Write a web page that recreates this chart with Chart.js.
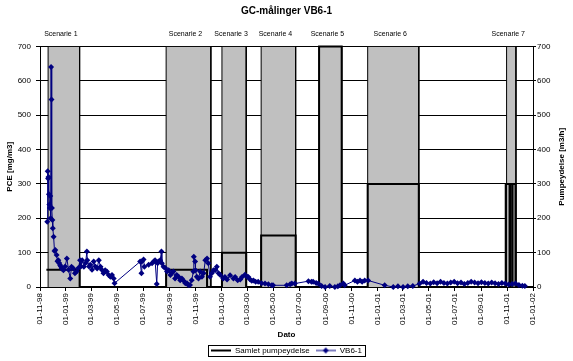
<!DOCTYPE html>
<html>
<head>
<meta charset="utf-8">
<script src="https://cdn.jsdelivr.net/npm/chart.js@4.4.0/dist/chart.umd.min.js"></script>
<style>
  html, body { margin: 0; padding: 0; background: #fff; }
</style>
</head>
<body>
<canvas id="myChart" width="573" height="361"></canvas>
<script>
// VB6-1 målinger (dato, PCE mg/m3)
var vbDates = [
  '1998-11-18', '1998-11-19', '1998-11-20', '1998-11-21', '1998-11-22', '1998-11-23', '1998-11-24', '1998-11-25',
  '1998-11-26', '1998-11-27', '1998-11-28', '1998-11-29', '1998-11-30', '1998-12-01', '1998-12-03', '1998-12-05',
  '1998-12-07', '1998-12-10', '1998-12-12', '1998-12-14', '1998-12-16', '1998-12-18', '1998-12-20', '1998-12-22',
  '1998-12-26', '1998-12-30', '1999-01-03', '1999-01-07', '1999-01-11', '1999-01-14', '1999-01-18', '1999-01-22',
  '1999-01-26', '1999-01-30', '1999-02-03', '1999-02-05', '1999-02-08', '1999-02-12', '1999-02-16', '1999-02-19',
  '1999-02-20', '1999-02-24', '1999-02-27', '1999-03-03', '1999-03-07', '1999-03-11', '1999-03-15', '1999-03-19',
  '1999-03-23', '1999-03-26', '1999-03-30', '1999-04-03', '1999-04-07', '1999-04-11', '1999-04-15', '1999-04-19',
  '1999-04-23', '1999-04-25',
  '1999-06-24', '1999-06-27', '1999-06-28', '1999-07-02', '1999-07-04', '1999-07-14', '1999-07-22', '1999-07-26',
  '1999-07-29', '1999-08-02', '1999-08-04', '1999-08-06', '1999-08-10', '1999-08-13', '1999-08-14', '1999-08-18',
  '1999-08-22', '1999-08-26', '1999-08-30', '1999-09-03', '1999-09-07', '1999-09-10', '1999-09-14', '1999-09-18',
  '1999-09-22', '1999-09-26', '1999-09-30', '1999-10-04', '1999-10-08', '1999-10-12', '1999-10-15', '1999-10-19',
  '1999-10-23', '1999-10-27', '1999-10-28', '1999-10-31', '1999-11-01', '1999-11-04', '1999-11-08', '1999-11-12',
  '1999-11-16', '1999-11-20', '1999-11-24', '1999-11-28', '1999-12-01', '1999-12-05', '1999-12-09', '1999-12-13',
  '1999-12-17', '1999-12-21', '1999-12-25', '1999-12-29',
  '2000-01-05', '2000-01-09', '2000-01-14', '2000-01-21', '2000-01-29', '2000-02-02', '2000-02-08', '2000-02-14',
  '2000-02-18', '2000-02-25', '2000-03-01', '2000-03-04', '2000-03-08', '2000-03-12', '2000-03-16', '2000-03-21',
  '2000-03-27', '2000-04-04', '2000-04-12', '2000-04-20', '2000-04-28', '2000-05-01', '2000-06-02', '2000-06-10',
  '2000-06-14', '2000-06-21', '2000-07-23', '2000-07-30', '2000-08-03', '2000-08-10', '2000-08-15', '2000-08-23',
  '2000-08-31', '2000-09-11', '2000-09-23', '2000-09-30', '2000-10-05', '2000-10-13', '2000-10-16', '2000-11-09',
  '2000-11-15', '2000-11-21', '2000-11-26', '2000-12-02', '2000-12-10',
  '2001-01-18', '2001-02-07', '2001-02-18', '2001-03-02', '2001-03-13', '2001-03-25', '2001-04-10', '2001-04-18',
  '2001-04-26', '2001-05-05', '2001-05-13', '2001-05-21', '2001-05-29', '2001-06-06', '2001-06-14', '2001-06-22',
  '2001-06-30', '2001-07-08', '2001-07-16', '2001-07-24', '2001-08-01', '2001-08-09', '2001-08-17', '2001-08-25',
  '2001-09-02', '2001-09-10', '2001-09-18', '2001-09-26', '2001-10-04', '2001-10-12', '2001-10-20', '2001-10-28',
  '2001-11-05', '2001-11-13', '2001-11-21', '2001-11-29', '2001-12-07', '2001-12-13'
];
var vbValues = [
  190, 337, 316, 320, 270, 240, 230, 265,
  200, 640, 546, 230, 195, 171, 146, 105,
  108, 93, 75, 78, 70, 64, 60, 54,
  49, 60, 83, 50, 25, 59, 54, 40,
  45, 55, 78, 60, 78, 59, 70, 103,
  78, 60, 65, 50, 74, 60, 54, 78,
  59, 50, 40, 49, 45, 35, 30, 35,
  25, 11,
  74, 40, 74, 80, 59, 65, 69, 74,
  78, 9, 69, 74, 78, 103, 69, 59,
  55, 45, 49, 35, 42, 45, 25, 35,
  30, 20, 25, 18, 11, 11, 6, 6,
  20, 45, 88, 74, 49, 30, 25, 45,
  30, 40, 78, 83, 69, 30, 40, 49,
  49, 59, 40, 35,
  25, 29, 22, 34, 25, 29, 20, 22,
  29, 36, 30, 29, 22, 18, 19, 15,
  15, 11, 10, 8, 5, 5, 5, 8,
  10, 10, 17, 15, 15, 12, 10, 3,
  0, 3, 0, 2, 5, 10, 5, 19,
  15, 19, 15, 19, 19,
  5, 0, 2, 0, 2, 3, 10, 15,
  12, 10, 14, 11, 15, 12, 10, 13,
  15, 11, 13, 9, 12, 15, 13, 11,
  14, 12, 10, 13, 11, 9, 12, 10,
  7, 9, 10, 6, 4, 3
];

// Samlet pumpeydelse (m3/h), trinvis
var pumpDates = [
  '1998-11-16', '1999-02-02', '1999-08-24', '1999-11-28', '2000-01-02', '2000-02-28', '2000-04-03', '2000-06-23',
  '2000-08-17', '2000-10-09', '2000-12-09', '2001-04-08', '2001-10-29', '2001-11-07', '2001-11-08', '2001-11-13',
  '2001-11-14', '2001-11-21', '2002-01-01'
];
var pumpValues = [50, 0, 50, 0, 100, 0, 150, 0, 700, 0, 300, 0, 300, 0, 300, 0, 300, 0, 0];

// scenarier
var scenarioNames = ['Scenarie 1', 'Scenarie 2', 'Scenarie 3', 'Scenarie 4', 'Scenarie 5', 'Scenarie 6', 'Scenarie 7'];
var scenarioStart = ['1998-11-20', '1999-08-24', '2000-01-02', '2000-04-03', '2000-08-17', '2000-12-09', '2001-10-31'];
var scenarioEnd = ['1999-02-02', '1999-12-07', '2000-02-28', '2000-06-23', '2000-10-09', '2001-04-08', '2001-11-22'];

var tickDates = [
  '1998-11-01', '1999-01-01', '1999-03-01', '1999-05-01', '1999-07-01', '1999-09-01', '1999-11-01',
  '2000-01-01', '2000-03-01', '2000-05-01', '2000-07-01', '2000-09-01', '2000-11-01',
  '2001-01-01', '2001-03-01', '2001-05-01', '2001-07-01', '2001-09-01', '2001-11-01', '2002-01-01'
];
var tickLabels = [
  '01-11-98', '01-01-99', '01-03-99', '01-05-99', '01-07-99', '01-09-99', '01-11-99',
  '01-01-00', '01-03-00', '01-05-00', '01-07-00', '01-09-00', '01-11-00',
  '01-01-01', '01-03-01', '01-05-01', '01-07-01', '01-09-01', '01-11-01', '01-01-02'
];
var yMax = 700;

function ms(d) {
  var p = d.split('-');
  return Date.UTC(+p[0], +p[1] - 1, +p[2]);
}

var vbData = vbDates.map(function (d, i) { return { x: ms(d), y: vbValues[i] }; });
var pumpData = pumpDates.map(function (d, i) { return { x: ms(d), y: pumpValues[i] }; });
var greyData = [];
scenarioStart.forEach(function (s, i) {
  greyData.push({ x: ms(s), y: 0 }, { x: ms(s), y: yMax }, { x: ms(scenarioEnd[i]), y: yMax }, { x: ms(scenarioEnd[i]), y: 0 });
});

function legendIcon(marker, color, lw) {
  var c = document.createElement('canvas');
  c.width = 20; c.height = 8;
  var g = c.getContext('2d');
  g.strokeStyle = color; g.lineWidth = lw;
  g.beginPath(); g.moveTo(0, 4); g.lineTo(20, 4); g.stroke();
  if (marker) {
    g.fillStyle = color;
    g.beginPath(); g.moveTo(10, 1); g.lineTo(13, 4); g.lineTo(10, 7); g.lineTo(7, 4); g.closePath(); g.fill();
  }
  return c;
}
var iconPump = legendIcon(false, '#000', 2);
var iconVB = legendIcon(true, '#000080', 1);

Chart.defaults.font.family = "'Liberation Sans', Arial, sans-serif";
Chart.defaults.color = '#000';

var extras = {
  id: 'extras',
  afterDraw: function (chart) {
    var ctx = chart.ctx, xs = chart.scales.x, area = chart.chartArea;
    ctx.save();
    ctx.fillStyle = '#000';
    ctx.textAlign = 'center';
    ctx.textBaseline = 'middle';
    ctx.font = "7px 'Liberation Sans', Arial, sans-serif";
    scenarioNames.forEach(function (n, i) {
      var cx = (xs.getPixelForValue(ms(scenarioStart[i])) + xs.getPixelForValue(ms(scenarioEnd[i]))) / 2;
      ctx.fillText(n, cx - 3, area.top - 12);
    });
    // højre aksetitel, læses nedefra og op
    ctx.font = "bold 8px 'Liberation Sans', Arial, sans-serif";
    ctx.translate(561.5, (area.top + area.bottom) / 2);
    ctx.rotate(-Math.PI / 2);
    ctx.fillText('Pumpeydelse [m3/h]', 0, 0);
    ctx.restore();

    // ramme om signaturforklaring
    var hb = chart.legend.legendHitBoxes;
    if (hb && hb.length) {
      var l = Math.min.apply(null, hb.map(function (b) { return b.left; }));
      var r = Math.max.apply(null, hb.map(function (b) { return b.left + b.width; }));
      ctx.save();
      ctx.strokeStyle = '#000';
      ctx.lineWidth = 1;
      ctx.strokeRect(Math.round(l - 3) + 0.5, Math.round(hb[0].top - 2) + 0.5, Math.round(r - l + 6), 11);
      ctx.restore();
    }
  }
};

var ctx = document.getElementById('myChart').getContext('2d');
var myChart = new Chart(ctx, {
  type: 'line',
  data: {
    datasets: [{
      label: 'Samlet pumpeydelse',
      data: pumpData,
      yAxisID: 'y2',
      stepped: true,
      borderColor: '#000',
      borderWidth: 2,
      pointRadius: 0,
      fill: false,
      clip: false,
      order: 2
    }, {
      label: 'VB6-1',
      data: vbData,
      yAxisID: 'y',
      borderColor: '#000080',
      backgroundColor: '#000080',
      borderWidth: 1,
      pointStyle: 'rectRot',
      pointRadius: 3,
      pointBorderWidth: 0,
      fill: false,
      clip: 5,
      order: 1
    }, {
      label: 'scenarier',
      data: greyData,
      yAxisID: 'y2',
      borderColor: '#000',
      borderWidth: 1,
      backgroundColor: '#c0c0c0',
      pointRadius: 0,
      fill: 'origin',
      order: 3
    }]
  },
  options: {
    responsive: false,
    animation: false,
    layout: { padding: 0 },
    plugins: {
      tooltip: { enabled: false },
      title: {
        display: true,
        text: 'GC-målinger VB6-1',
        font: { size: 10, weight: 'bold' },
        padding: { top: 5, bottom: 29.5 }
      },
      legend: {
        position: 'bottom',
        maxHeight: 20.5,
        labels: {
          usePointStyle: true,
          pointStyleWidth: 20,
          boxHeight: 8,
          padding: 6,
          font: { size: 8 },
          generateLabels: function () {
            return [
              { text: 'Samlet pumpeydelse', pointStyle: iconPump, datasetIndex: 0, lineWidth: 1, strokeStyle: '#000', fillStyle: '#000', fontColor: '#000' },
              { text: 'VB6-1', pointStyle: iconVB, datasetIndex: 1, lineWidth: 1, strokeStyle: '#000080', fillStyle: '#000080', fontColor: '#000' }
            ];
          }
        }
      }
    },
    scales: {
      x: {
        type: 'linear',
        min: ms(tickDates[0]),
        max: ms(tickDates[tickDates.length - 1]),
        afterBuildTicks: function (s) {
          s.ticks = tickDates.map(function (d) { return { value: ms(d) }; });
        },
        afterFit: function (s) { s.height = 53.5; },
        grid: { drawOnChartArea: false, tickLength: 4, tickColor: '#000' },
        border: { color: '#000' },
        ticks: {
          autoSkip: false,
          minRotation: 90,
          maxRotation: 90,
          padding: 2,
          font: { size: 8 },
          callback: function (v, i) { return tickLabels[i]; }
        },
        title: { display: true, text: 'Dato', font: { size: 8, weight: 'bold' }, padding: { top: 4, bottom: 1 } }
      },
      y: {
        position: 'left',
        min: 0,
        max: yMax,
        afterFit: function (s) { s.width = 40; },
        ticks: { stepSize: 100, padding: 5, font: { size: 8 } },
        grid: { color: '#000', tickLength: 4 },
        border: { color: '#000' },
        title: { display: true, text: 'PCE [mg/m3]', font: { size: 8, weight: 'bold' }, padding: { top: 5, bottom: 0 } }
      },
      y2: {
        position: 'right',
        min: 0,
        max: yMax,
        afterFit: function (s) { s.width = 40; },
        ticks: { stepSize: 100, padding: 1, font: { size: 8 } },
        grid: { drawOnChartArea: false, tickLength: 3, tickColor: '#000' },
        border: { color: '#000' }
      }
    }
  },
  plugins: [extras]
});
</script>
</body>
</html>
